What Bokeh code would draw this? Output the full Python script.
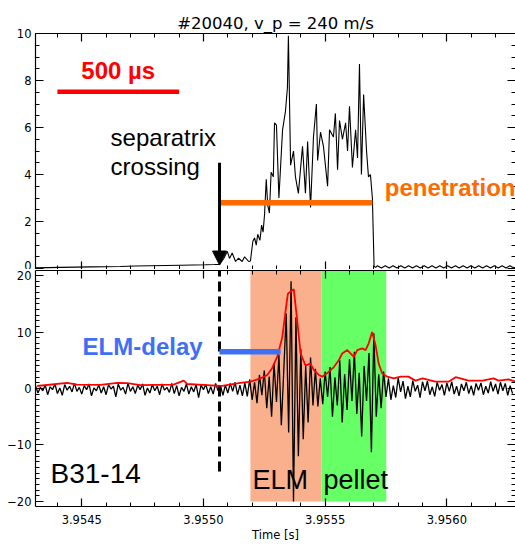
import numpy as np
from bokeh.plotting import figure
from bokeh.layouts import column
from bokeh.models import (Range1d, LinearAxis, SingleIntervalTicker, PrintfTickFormatter,
                          Label, Arrow, NormalHead)
from bokeh.embed import file_html
from bokeh.resources import INLINE

# ---------------- data ----------------
T_REF = 3.9543          # s; the *_us lists are microseconds after T_REF
US = 1e-6

# top panel trace (pellet monitor signal)
top_t_us = [10, 60, 113, 175, 236, 300, 359, 420, 482, 545, 606, 660, 708, 745, 766,
            770, 784, 798, 807, 818, 832, 844, 859, 869, 886, 893, 903, 910, 917, 923,
            932, 939, 945, 951, 958, 964, 971, 978, 987, 992, 1000, 1010, 1025, 1037,
            1045, 1049, 1058, 1070, 1078, 1090, 1107, 1119, 1128, 1140, 1152, 1164,
            1169, 1181, 1193, 1210, 1218, 1234, 1242, 1251, 1259, 1271, 1284, 1292,
            1300, 1312, 1325, 1333, 1341, 1349, 1358, 1370, 1378, 1386, 1394, 1401,
            1407, 1415, 1431, 1447, 1463, 1479, 1495, 1511, 1527, 1543, 1559, 1575,
            1591, 1607, 1623, 1639, 1655, 1671, 1687, 1703, 1719, 1735, 1751, 1767,
            1783, 1799, 1815, 1831, 1847, 1863, 1879, 1895, 1911, 1927, 1943, 1959,
            1975, 1991]
top_v = [0.03, 0.04, 0.05, 0.06, 0.07, 0.08, 0.09, 0.11, 0.12, 0.13, 0.14, 0.15, 0.16, 0.17, 0.18,
         0.23, 0.44, 0.73, 0.43, 0.66, 0.30, 0.44, 0.30, 0.50, 0.30, 0.32, 1.16, 1.30, 1.00, 1.46,
         1.20, 1.85, 1.55, 2.30, 3.80, 2.70, 2.36, 4.10, 3.90, 6.20, 6.10, 3.00, 5.90, 6.70,
         7.70, 9.90, 4.40, 5.00, 3.90, 3.20, 5.20, 3.20, 5.40, 2.60, 5.60, 7.00,
         4.60, 5.80, 5.20, 3.50, 5.90, 5.60, 6.60, 4.20, 6.30, 5.50, 6.20, 5.00,
         6.90, 4.30, 5.90, 4.70, 8.70, 4.00, 7.40, 5.00, 3.90, 4.00, 3.00, 0.10,
         0.05, 0.12, 0.02, 0.12, 0.02, 0.12, 0.02, 0.12, 0.02, 0.12, 0.02, 0.12,
         0.02, 0.12, 0.02, 0.12, 0.02, 0.12, 0.02, 0.12, 0.02, 0.12, 0.02, 0.12,
         0.02, 0.12, 0.02, 0.12, 0.02, 0.12, 0.02, 0.12, 0.02, 0.12, 0.02, 0.12,
         0.02, 0.12]

# bottom panel: magnetic probe B31-14, sampled every 10 us from 3.95431 s
bot_t_start = 3.95431
bot_dt = 0.00001
bot_quiet_before = [0.5, -0.8, 0.2, -0.4, 0.6, -1.1, 0.3, -0.2, 0.8, -0.9,
                    0.1, -1.2, 0.7, -0.3, 0.4, -0.6, 0.9, -0.5, 0.2, -1.0,
                    0.5, -0.2, 0.8, -1.3, 0.1, -0.4, 0.6, -0.8, 0.3, -1.1,
                    0.7, -0.1, 0.4, -1.5, 0.8, -0.3, 0.2, -1.0, 0.9, -0.5,
                    0.3, -0.9, 0.6, -0.2, 0.8, -1.2, 0.1, -0.8, 0.7, -0.4,
                    0.4, -1.1, 0.8, -0.3, 0.2, -0.7, 0.9, -0.9, 0.5, -1.3,
                    0.2, -0.5, 0.8, -1.0, 0.3, -0.6, 0.7, -1.6, 0.6, -0.2,
                    0.7, -0.9, 0.3, -1.0, 0.9, -0.4, 0.5, -1.2, 0.6, -0.8,
                    0.9, -0.5, 1.1, -1.1, 0.6, -1.3, 1.0, -1.4]
bot_elm = [1.6, -2.0, 1.1, -2.6, 2.4, -1.2, 3.2, -3.5, 2.1, -5.0, 4.5, -2.4, 6.0, -6.5, 3.2,
           13.3, -7.8, 19.0, -20.0, 12.6, -12.0, 7.0, -9.0, 4.0, -6.0, 5.5, -3.0, 3.5, -3.2, 1.8]
bot_pellet = [-2.8, 3.0, -1.5, 3.8, -5.0, 2.0, -3.0, 5.0, -6.0, 2.5,
              -3.8, 5.2, -2.2, 6.5, -4.5, 2.8, -8.5, 4.0, -2.2, 6.3,
              -11.3, 9.8, -5.0, 2.5, -3.5, 3.0, -1.5]
bot_quiet_after = [1.8, -2.0, 0.5, -1.6, 1.9, -0.6, 1.3, -1.8, 0.4, -1.5,
                   1.4, -0.5, 0.6, -1.6, 1.2, -0.4, 1.3, -1.1, 0.3, -1.4,
                   1.1, -0.3, 0.7, -1.2, 1.0, -0.5, 1.2, -1.0, 0.4, -1.3,
                   0.8, -0.4, 1.1, -0.9, 0.5, -1.2, 0.9, -0.3, 1.0, -1.1,
                   0.4, -0.8, 1.2, -0.5, 0.8, -1.0, 1.1, -0.4, 0.9, -1.2,
                   0.5, -0.9]
bot_v = bot_quiet_before + bot_elm + bot_pellet + bot_quiet_after

# red envelope of the probe signal
env_t_us = [17, 140, 181, 277, 346, 387, 441, 577, 619, 633, 715, 770, 852, 893, 934,
            962, 982, 1003, 1024, 1041, 1047, 1071, 1085, 1099, 1119, 1140, 1153, 1174,
            1188, 1208, 1236, 1256, 1270, 1291, 1318, 1332, 1352, 1366, 1379, 1393, 1407,
            1420, 1434, 1455, 1482, 1510, 1542, 1571, 1600, 1653, 1707, 1736, 1756, 1789,
            1847, 1892, 1913, 1954, 1983]
env_v = [0.44, 1.0, 0.7, 0.65, 1.0, 0.95, 0.6, 0.7, 1.4, 0.8, 0.6, 0.44, 1.0, 1.2, 1.8,
         2.4, 3.6, 5.6, 9.1, 15.0, 16.8, 17.6, 12.1, 6.2, 4.1, 4.4, 3.3, 2.4,
         2.1, 2.7, 3.8, 5.0, 6.2, 6.8, 5.6, 6.8, 7.1, 6.8, 8.0, 10.0, 7.7,
         4.4, 2.7, 2.1, 1.8, 2.1, 2.1, 1.4, 1.8, 1.2, 1.2, 2.0, 1.8, 1.4,
         1.4, 1.8, 1.4, 1.6, 1.2]

# events (s) and annotation levels
t_sep = 3.955066          # separatrix crossing
t_elm = [3.955193, 3.955485]
t_pellet = [3.955485, 3.955751]
t_pen_end = 3.955694      # end of penetration
t_delay_end = 3.955317    # end of ELM-delay bar
scale_bar = [3.9544, 3.9549]   # 500 us
scale_level = 7.52
pen_level = 2.8
delay_level = 6.5

x_start, x_end = 3.95431, 3.956282

AX_FONT = "DejaVu Sans"
TXT_FONT = "Liberation Sans"

top_t = [T_REF + u * US for u in top_t_us]
env_t = [T_REF + u * US for u in env_t_us]
bot_t = bot_t_start + bot_dt * np.arange(len(bot_v))

x_range = Range1d(x_start, x_end)


def setup_axes(p, yint, yminor, xlabels):
    xt = SingleIntervalTicker(interval=0.0005, num_minor_ticks=5)
    yt = SingleIntervalTicker(interval=yint, num_minor_ticks=yminor)
    bottom_ax = p.below[0]
    left_ax = p.left[0]
    bottom_ax.ticker = xt
    left_ax.ticker = yt
    top_ax = LinearAxis(ticker=xt)
    right_ax = LinearAxis(ticker=yt)
    p.add_layout(top_ax, "above")
    p.add_layout(right_ax, "right")
    for ax in [bottom_ax, left_ax, top_ax, right_ax]:
        ax.major_tick_in = 8
        ax.major_tick_out = 0
        ax.minor_tick_in = 4
        ax.minor_tick_out = 0
        ax.axis_line_width = 1.2
        ax.major_tick_line_width = 1.2
        ax.minor_tick_line_width = 1
        ax.axis_line_color = "black"
        ax.major_tick_line_color = "black"
        ax.minor_tick_line_color = "black"
        ax.major_label_text_font = AX_FONT
        ax.major_label_text_font_size = "11.5px"
        ax.major_label_text_color = "black"
    right_ax.axis_line_color = None
    hidden = [top_ax, right_ax]
    if not xlabels:
        hidden.append(bottom_ax)
    for ax in hidden:
        ax.major_label_text_font_size = "0px"
        ax.major_label_text_alpha = 0
        ax.major_label_standoff = 0
    left_ax.major_label_standoff = 4
    if xlabels:
        bottom_ax.major_label_standoff = 8
        bottom_ax.formatter = PrintfTickFormatter(format="%.4f")
        bottom_ax.axis_label = "Time [s]"
        bottom_ax.axis_label_text_font = AX_FONT
        bottom_ax.axis_label_text_font_size = "11.5px"
        bottom_ax.axis_label_text_font_style = "normal"
        bottom_ax.axis_label_text_color = "black"
        bottom_ax.axis_label_standoff = 1


# ---------------- top panel ----------------
p1 = figure(width=515, height=269, x_range=x_range, y_range=Range1d(-0.04, 10.0),
            output_backend="svg", toolbar_location=None,
            title="#20040, v_p = 240 m/s",
            min_border_left=35, min_border_right=0, min_border_top=33, min_border_bottom=0)
p1.title.align = "center"
p1.title.text_font = AX_FONT
p1.title.text_font_size = "16.5px"
p1.title.text_font_style = "normal"
p1.title.text_color = "black"
p1.title.standoff = 2
p1.outline_line_color = None
p1.grid.visible = False
setup_axes(p1, 2, 4, False)

p1.line(top_t, top_v, line_color="black", line_width=1.1)
p1.segment(x0=[scale_bar[0]], y0=[scale_level], x1=[scale_bar[1]], y1=[scale_level],
           line_color="#FF0000", line_width=4.5)
p1.segment(x0=[t_sep], y0=[pen_level], x1=[t_pen_end], y1=[pen_level],
           line_color="#FF6A00", line_width=5.5)
p1.add_layout(Arrow(end=NormalHead(size=14, fill_color="black", line_color="black"),
                    x_start=t_sep, y_start=4.5, x_end=t_sep, y_end=0.15,
                    line_color="black", line_width=3))

p1.add_layout(Label(x=(scale_bar[0] + scale_bar[1]) / 2, y=7.86, text="500 \u00b5s",
                    text_align="center", text_font=TXT_FONT, text_font_size="24px",
                    text_font_style="bold", text_color="#FF0000"))
p1.add_layout(Label(x=3.9546185, y=5.02, text="separatrix", text_font=TXT_FONT,
                    text_font_size="24px", text_color="black"))
p1.add_layout(Label(x=3.9546185, y=3.77, text="crossing", text_font=TXT_FONT,
                    text_font_size="24px", text_color="black"))
p1.add_layout(Label(x=3.955745, y=2.88, text="penetration", text_font=TXT_FONT,
                    text_font_size="24px", text_font_style="bold", text_color="#FF6A00"))

# ---------------- bottom panel ----------------
p2 = figure(width=515, height=275, x_range=x_range, y_range=Range1d(-20.9, 20.9),
            output_backend="svg", toolbar_location=None,
            min_border_left=35, min_border_right=0, min_border_top=1, min_border_bottom=37)
p2.outline_line_color = None
p2.grid.visible = False
setup_axes(p2, 10, 10, True)

p2.quad(left=[t_elm[0]], right=[t_elm[1]], bottom=[-20], top=[25],
        fill_color="#FAB08C", line_color=None)
p2.quad(left=[t_pellet[0]], right=[t_pellet[1]], bottom=[-20], top=[25],
        fill_color="#66FF66", line_color=None)
p2.line(bot_t, bot_v, line_color="black", line_width=1.3)
p2.line(env_t, env_v, line_color="#FF0000", line_width=1.8)
p2.segment(x0=[t_sep], y0=[-14.7], x1=[t_sep], y1=[25], line_color="black",
           line_width=3, line_dash="10 5")
p2.segment(x0=[t_sep], y0=[delay_level], x1=[t_delay_end], y1=[delay_level],
           line_color="#3F6FF5", line_width=5.5)

p2.add_layout(Label(x=3.9545035, y=5.0, text="ELM-delay", text_font=TXT_FONT,
                    text_font_size="24px", text_font_style="bold", text_color="#3F6FF5"))
p2.add_layout(Label(x=3.9543718, y=-17.8, text="B31-14", text_font=TXT_FONT,
                    text_font_size="28px", text_color="black"))
p2.add_layout(Label(x=3.955201, y=-18.8, text="ELM", text_font=TXT_FONT,
                    text_font_size="27px", text_color="black"))
p2.add_layout(Label(x=3.955493, y=-18.8, text="pellet", text_font=TXT_FONT,
                    text_font_size="27px", text_color="black"))

layout = column(p1, p2)
open("out.html", "w").write(file_html(layout, INLINE))
